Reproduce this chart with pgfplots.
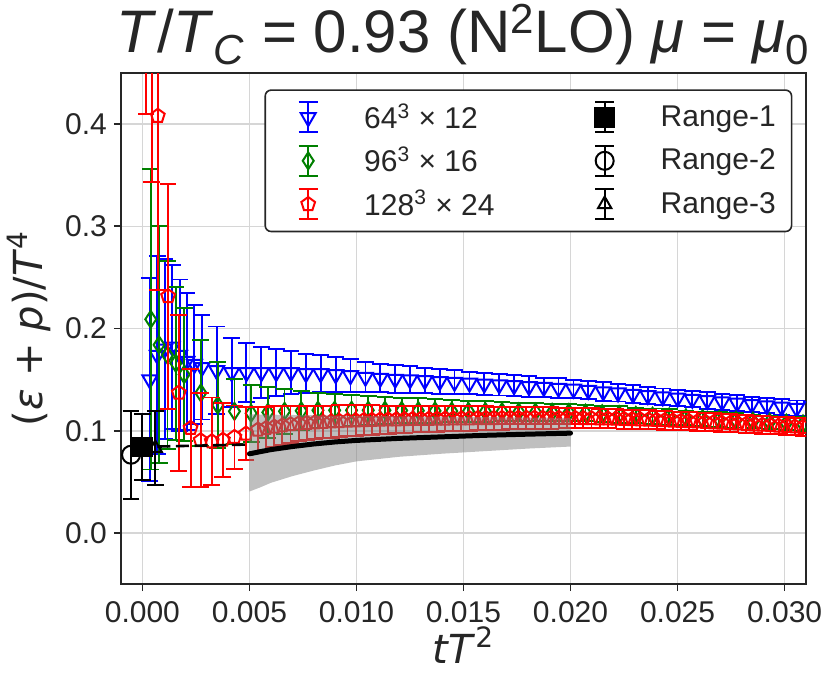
\documentclass[border=0pt]{standalone}
\usepackage{pgfplots}
\pgfplotsset{compat=1.18}
\usepackage{pgfplotstable}
\usepackage{fontspec}
\setmainfont{Liberation Sans}
\newfontfamily\dejavu{DejaVu Sans}
\definecolor{axc}{RGB}{38,38,38}
\definecolor{gridc}{RGB}{214,214,214}
\definecolor{mgreen}{RGB}{0,128,0}
\pgfplotsset{
 ebimg/.style={legend image code/.code={%
   \path[draw=none,fill=none] (-5.1pt,-10.85pt) rectangle (17pt,10.85pt);
   \draw[##1, mark=none, solid, rounded corners=0pt] (8.5pt,-7.5pt) -- (8.5pt,7.5pt) (3.75pt,-7.5pt) -- (13.25pt,-7.5pt) (3.75pt,7.5pt) -- (13.25pt,7.5pt);
   \draw[##1, only marks, rounded corners=0pt] plot coordinates {(8.5pt,0pt)};
 }},
 ebar/.style={error bars/.cd, y dir=both, y explicit, error mark=-,
   error bar style={line width=0.95pt, solid},
   error mark options={rotate=90, mark size=4.2pt, line width=0.95pt, solid}},
}
\pgfplotstableread{
x y e
0.000347 0.150 0.099
0.000694 0.174 0.097
0.00104 0.180 0.088
0.00139 0.182 0.080
0.00174 0.174 0.074
0.00208 0.168 0.067
0.00243 0.165 0.058
0.00278 0.162 0.051
0.00347 0.159 0.043
0.00417 0.157 0.034
0.00486 0.157 0.029
0.00556 0.157 0.025
0.00625 0.157 0.023
0.00694 0.157 0.021
0.00764 0.156 0.019
0.00833 0.156 0.018
0.00903 0.155 0.017
0.00972 0.154 0.016
0.01042 0.1525 0.015
0.01111 0.1515 0.014
0.01181 0.1505 0.0135
0.01250 0.1500 0.013
0.01319 0.1492 0.0125
0.01389 0.1483 0.012
0.01458 0.1475 0.0115
0.01528 0.1467 0.011
0.01597 0.1458 0.011
0.01667 0.1450 0.0105
0.01736 0.1442 0.010
0.01806 0.1433 0.010
0.01875 0.1425 0.0095
0.01944 0.1417 0.0095
0.02014 0.1408 0.009
0.02083 0.1396 0.009
0.02153 0.1383 0.009
0.02222 0.1371 0.0085
0.02292 0.1358 0.0085
0.02361 0.1346 0.0085
0.02431 0.1333 0.008
0.02500 0.1321 0.008
0.02569 0.1308 0.008
0.02639 0.1296 0.008
0.02708 0.1283 0.008
0.02778 0.1271 0.0075
0.02847 0.1258 0.0075
0.02917 0.1246 0.0075
0.02986 0.1233 0.0075
0.03056 0.1221 0.0075
0.03125 0.1208 0.0075
}\bluedata
\pgfplotstableread{
x y e
0.00039 0.209 0.147
0.00078 0.184 0.116
0.00117 0.174 0.092
0.00156 0.166 0.075
0.00195 0.155 0.065
0.00273 0.137 0.052
0.00352 0.125 0.042
0.00430 0.119 0.032
0.00508 0.117 0.028
0.00586 0.118 0.025
0.00664 0.119 0.022
0.00742 0.1195 0.019
0.00820 0.120 0.017
0.00898 0.120 0.016
0.00977 0.120 0.015
0.01055 0.120 0.014
0.01133 0.120 0.013
0.01211 0.1198 0.0125
0.01289 0.1196 0.012
0.01367 0.1194 0.0115
0.01445 0.1192 0.011
0.01523 0.1190 0.0105
0.01602 0.1188 0.010
0.01680 0.1186 0.0095
0.01758 0.1184 0.009
0.01836 0.1182 0.009
0.01914 0.1180 0.0085
0.01992 0.1178 0.0085
0.02070 0.1172 0.008
0.02148 0.1166 0.008
0.02227 0.1158 0.008
0.02305 0.1150 0.0075
0.02383 0.1142 0.0075
0.02461 0.1134 0.0075
0.02539 0.1126 0.007
0.02617 0.1118 0.007
0.02695 0.1110 0.007
0.02773 0.1101 0.007
0.02852 0.1092 0.0065
0.02930 0.1083 0.0065
0.03008 0.1074 0.0065
0.03086 0.1065 0.0065
}\greendata
\pgfplotstableread{
x y e
0.00017 0.620 0.210
0.00044 0.550 0.207
0.00072 0.408 0.170
0.00120 0.2315 0.110
0.00170 0.137 0.076
0.00225 0.1025 0.058
0.00272 0.0905 0.046
0.00324 0.0895 0.043
0.00376 0.091 0.036
0.00430 0.0937 0.031
0.00484 0.097 0.026
0.00540 0.1010 0.022
0.00578 0.1025 0.021
0.00616 0.1038 0.020
0.00654 0.1050 0.019
0.00692 0.1062 0.018
0.00730 0.1070 0.0175
0.00768 0.1076 0.017
0.00806 0.1081 0.0165
0.00844 0.1085 0.016
0.00882 0.1089 0.0158
0.00920 0.1093 0.0155
0.00958 0.1097 0.0152
0.00996 0.1100 0.015
0.01034 0.1102 0.0147
0.01072 0.1104 0.0144
0.01110 0.1106 0.0141
0.01148 0.1108 0.0138
0.01186 0.1110 0.0135
0.01224 0.1112 0.0133
0.01262 0.1113 0.0131
0.01300 0.1114 0.0129
0.01338 0.1115 0.0127
0.01376 0.1116 0.0125
0.01414 0.1117 0.0124
0.01452 0.1118 0.0123
0.01490 0.1119 0.0121
0.01528 0.1120 0.0120
0.01566 0.1121 0.0118
0.01604 0.1122 0.0116
0.01642 0.1122 0.0114
0.01680 0.1123 0.0112
0.01718 0.1123 0.0110
0.01756 0.1124 0.0108
0.01794 0.1124 0.0107
0.01832 0.1125 0.0106
0.01870 0.1125 0.0105
0.01908 0.1125 0.0104
0.01946 0.1124 0.0102
0.01984 0.1124 0.0100
0.02022 0.1123 0.0099
0.02060 0.1122 0.0098
0.02098 0.1121 0.0097
0.02136 0.1120 0.0096
0.02174 0.1118 0.0095
0.02212 0.1116 0.0094
0.02250 0.1114 0.0093
0.02288 0.1112 0.0093
0.02326 0.1110 0.0092
0.02364 0.1107 0.0092
0.02402 0.1104 0.0091
0.02440 0.1101 0.0091
0.02478 0.1098 0.0090
0.02516 0.1095 0.0090
0.02554 0.1092 0.0089
0.02592 0.1089 0.0089
0.02630 0.1085 0.0088
0.02668 0.1081 0.0088
0.02706 0.1077 0.0088
0.02744 0.1073 0.0087
0.02782 0.1069 0.0087
0.02820 0.1065 0.0087
0.02858 0.1061 0.0086
0.02896 0.1057 0.0086
0.02934 0.1053 0.0086
0.02972 0.1049 0.0085
0.03010 0.1045 0.0085
0.03048 0.1040 0.0085
0.03086 0.1035 0.0085
0.03124 0.1030 0.0085
}\reddata
\begin{document}
\begin{tikzpicture}
\path[use as bounding box] (-60.5pt,-49pt) rectangle (355pt,292pt);
\begin{axis}[
  at={(0,0)}, anchor=south west,
  scale only axis, width=342.5pt, height=255.5pt,
  xmin=-0.001, xmax=0.031, ymin=-0.05, ymax=0.45,
  xtick={0,0.005,0.01,0.015,0.02,0.025,0.03},
  ytick={0,0.1,0.2,0.3,0.4},
  scaled x ticks=false, scaled y ticks=false,
  /pgf/number format/assume math mode=true,
  xticklabel style={/pgf/number format/fixed, /pgf/number format/fixed zerofill, /pgf/number format/precision=3, yshift=-1.5pt},
  yticklabel style={/pgf/number format/fixed, /pgf/number format/fixed zerofill, /pgf/number format/precision=1},
  tick label style={font=\fontsize{15}{18}\selectfont, text=axc},
  grid=major, major grid style={line width=0.8pt, draw=gridc},
  axis line style={draw=axc, line width=0.9pt},
  tick style={draw=axc, line width=0.9pt},
  tick align=outside, tick pos=left, major tick length=3.5pt,
  clip marker paths=true,
  title={\textit{T}/\textit{T}\textsubscript{\textit{C}} = 0.93 (N\textsuperscript{2}LO) \textit{μ} = \textit{μ}\textsubscript{0}},
  title style={font=\fontsize{30}{35}\selectfont, text=axc, at={(axis description cs:0.5,1)}, anchor=base, yshift=4.5pt},
  xlabel={\textit{tT}\textsuperscript{2}},
  ylabel={(\textit{ε}\hspace{0.3em}+\hspace{0.3em}\textit{p})/\textit{T}\textsuperscript{4}},
  every axis x label/.style={at={(axis description cs:0.5,-0.1546)}, anchor=base, font=\dejavu\fontsize{20}{24}\selectfont, text=axc},
  every axis y label/.style={at={(axis description cs:-0.092,0.5)}, rotate=90, anchor=south, font=\dejavu\fontsize{20}{24}\selectfont, text=axc},
  legend columns=2,
  legend cell align=left,
  legend style={at={(axis description cs:0.9801,0.9681)}, anchor=north east,
    draw=axc, line width=0.8pt, rounded corners=3pt, fill=white,
    font=\fontsize{15}{18}\selectfont, text=axc,
    inner xsep=7.9pt, inner ysep=2.8pt,
    nodes={inner sep=0pt},
    /tikz/every odd column/.append style={column sep=19.5pt},
    /tikz/every even column/.append style={column sep=41.5pt}},
]
\addplot[blue, only marks, mark=triangle, mark size=4.3pt, mark options={rotate=180, line width=1pt, solid}, forget plot, ebar]
  table[x=x, y=y, y error=e] {\bluedata};
\addplot[mgreen, only marks, mark=diamond, mark size=4.2pt, mark options={xscale=0.87, line width=1pt, solid}, forget plot, ebar]
  table[x=x, y=y, y error=e] {\greendata};
\addplot[red, only marks, mark=pentagon, mark size=3.6pt, mark options={line width=1pt, solid}, forget plot, ebar]
  table[x=x, y=y, y error=e] {\reddata};
% band
\addplot[draw=none, fill=gray, fill opacity=0.5, forget plot] coordinates {
 (0.005,0.116) (0.010,0.1145) (0.015,0.1135) (0.020,0.1125)
 (0.020,0.0845) (0.018,0.0825) (0.016,0.0800) (0.014,0.0775) (0.012,0.0745)
 (0.010,0.0700) (0.009,0.0660) (0.008,0.0610) (0.007,0.0555) (0.006,0.0490)
 (0.0055,0.0445) (0.005,0.0405)} -- cycle;
\addplot[black, line width=1.3pt, dash pattern=on 6.5pt off 2.8pt, forget plot] coordinates {(0.0007,0.0845) (0.005,0.0865)};
\addplot[black, line width=2.5pt, line cap=round, forget plot] coordinates {
 (0.005,0.0774) (0.006,0.0815) (0.007,0.0845) (0.008,0.0870) (0.009,0.0890)
 (0.010,0.0905) (0.012,0.0925) (0.014,0.0940) (0.016,0.0955) (0.018,0.0966) (0.020,0.0976)};
% ranges
\addplot[black, only marks, mark=o, mark size=4.5pt, mark options={line width=1pt, solid}, forget plot, ebar]
  table[x=x, y=y, y error=e] {
x y e
-0.00053 0.0765 0.043
};
\addplot[black, only marks, mark=square*, mark size=4.8pt, mark options={solid}, forget plot, ebar]
  table[x=x, y=y, y error=e] {
x y e
0.0 0.084 0.032
};
\addplot[black, only marks, mark=triangle, mark size=3.8pt, mark options={line width=1pt, solid}, forget plot, ebar]
  table[x=x, y=y, y error=e] {
x y e
0.0006 0.083 0.036
};
% legend
\addlegendimage{ebimg, blue, line width=0.95pt, mark=triangle, mark size=4.3pt, mark options={rotate=180, line width=1pt, solid}}
\addlegendentry{64\textsuperscript{3} × 12}
\addlegendimage{ebimg, black, line width=0.95pt, mark=square*, mark size=4.8pt, mark options={solid}}
\addlegendentry{Range-1}
\addlegendimage{ebimg, mgreen, line width=0.95pt, mark=diamond, mark size=4.2pt, mark options={xscale=0.87, line width=1pt, solid}}
\addlegendentry{96\textsuperscript{3} × 16}
\addlegendimage{ebimg, black, line width=0.95pt, mark=o, mark size=4.5pt, mark options={line width=1pt, solid}}
\addlegendentry{Range-2}
\addlegendimage{ebimg, red, line width=0.95pt, mark=pentagon, mark size=3.6pt, mark options={line width=1pt, solid}}
\addlegendentry{128\textsuperscript{3} × 24}
\addlegendimage{ebimg, black, line width=0.95pt, mark=triangle, mark size=3.8pt, mark options={line width=1pt, solid}}
\addlegendentry{Range-3}
\end{axis}
\end{tikzpicture}
\end{document}
